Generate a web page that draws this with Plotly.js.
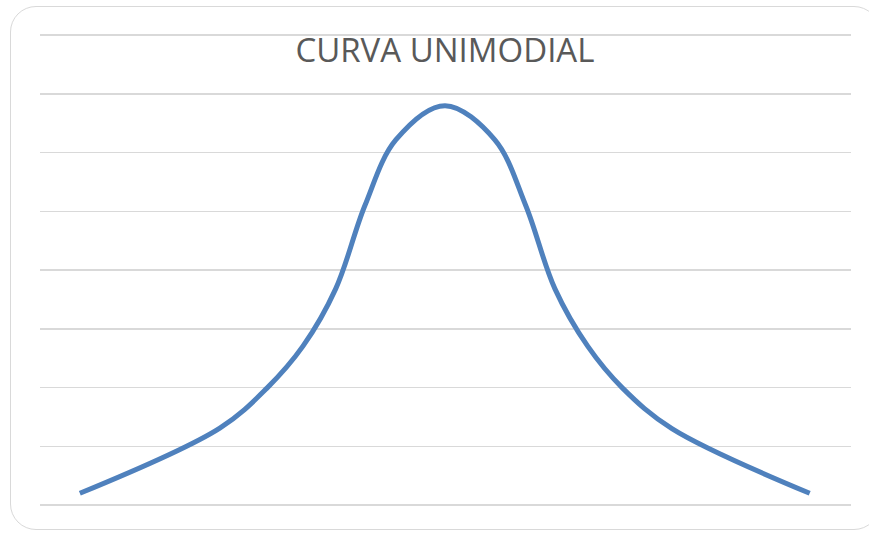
<!DOCTYPE html>
<html>
<head>
<meta charset="utf-8">
<script src="https://cdn.plot.ly/plotly-3.0.1.min.js"></script>
<style>
  html, body { margin: 0; padding: 0; background: #ffffff; }
  #wrap { position: relative; width: 869px; height: 533px; overflow: hidden; }
  #frame { position: absolute; left: 10px; top: 6px; width: 870px; height: 524px;
           border: 1.5px solid #d9d9d9; border-radius: 26px; box-sizing: border-box; pointer-events: none; }
  #chart { position: absolute; left: 0; top: 0; width: 869px; height: 533px; }
</style>
</head>
<body>
<div id="wrap">
  <div id="chart"></div>
  <div id="frame"></div>
</div>
<script>
const chartTitle = "CURVA UNIMODIAL";
const xValues = [0, 3.83, 5.12, 6.1, 7.0, 7.8, 8.65, 9.99,
                 11.35, 12.2, 13.0, 13.9, 14.85, 16.2, 19.97];
const yValues = [0.20, 1.31, 1.99, 2.70, 3.68, 5.10, 6.22, 6.80,
                 6.22, 5.10, 3.68, 2.70, 1.99, 1.30, 0.20];

const trace = {
  x: xValues, y: yValues, type: 'scatter', mode: 'lines',
  line: { color: '#4f81bd', width: 5, shape: 'spline', smoothing: 1 },
  hoverinfo: 'skip'
};

const layout = {
  width: 869, height: 533,
  margin: { l: 40, r: 18, t: 34, b: 28 },
  paper_bgcolor: '#ffffff', plot_bgcolor: '#ffffff',
  showlegend: false,
  title: { text: chartTitle, font: { family: 'Open Sans, sans-serif', size: 33, color: '#595959' },
           x: 0.512, xanchor: 'center', y: 0.905, yanchor: 'middle' },
  xaxis: { range: [-1.09, 21.1], showgrid: false, zeroline: false, showticklabels: false, showline: false, ticks: '' },
  yaxis: { range: [0, 8.02], tickvals: [0, 1, 2, 3, 4, 5, 6, 7, 8], showgrid: true, gridcolor: '#d9d9d9', gridwidth: 1.5,
           zeroline: true, zerolinecolor: '#d9d9d9', zerolinewidth: 1.5,
           showticklabels: false, showline: false, ticks: '' }
};

Plotly.newPlot('chart', [trace], layout, { displayModeBar: false, staticPlot: true });
</script>
</body>
</html>
